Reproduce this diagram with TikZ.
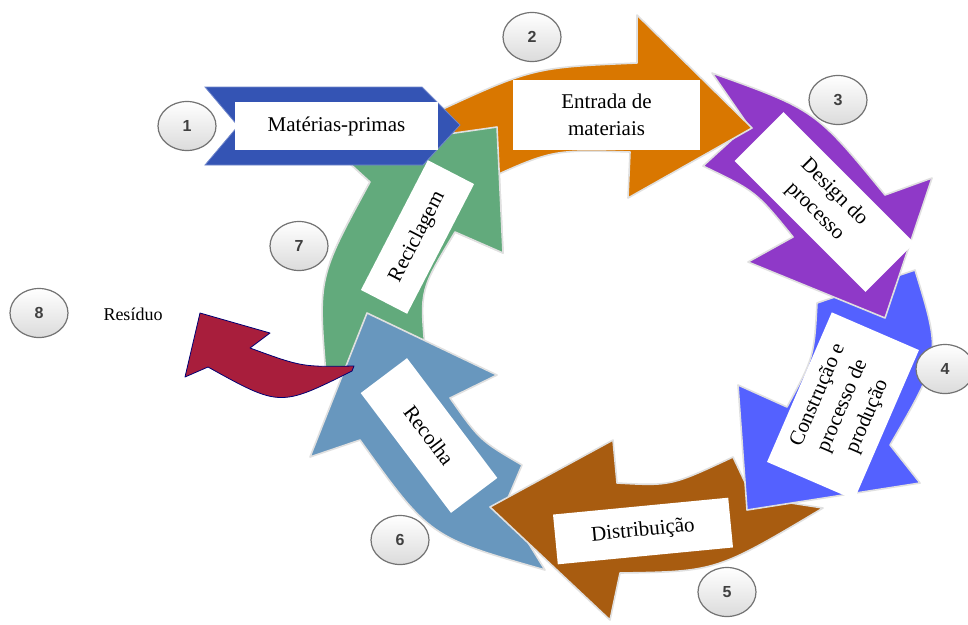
\documentclass[tikz,border=0pt]{standalone}
\usepackage{fontspec}
\setmainfont{Liberation Serif}
\newfontfamily\numfont{Liberation Sans}
\usetikzlibrary{shapes.geometric}
\definecolor{cOrange}{RGB}{217,119,0}
\definecolor{cPurple}{RGB}{143,57,200}
\definecolor{cBlue}{RGB}{84,97,255}
\definecolor{cBrown}{RGB}{168,92,16}
\definecolor{cSteel}{RGB}{104,151,190}
\definecolor{cGreen}{RGB}{98,170,124}
\definecolor{cRed}{RGB}{168,30,60}
\definecolor{cChev}{RGB}{52,84,180}
\newcommand\GreenShp{%
  \path[arr, fill=cGreen] (326,375) -- (425,348) .. controls (420,290) .. (455,232)
    -- (503,253) -- (497,127) -- (335,150) -- (370,182)
    .. controls (318,277.5) .. (326,375) -- cycle;}
\begin{document}
\begin{tikzpicture}[x=1pt,y=-1pt,
  arr/.style={draw=black!12, line width=1.6pt, line join=round},
  lbl/.style={fill=white, inner sep=0pt, align=center, font=\fontsize{21}{27}\selectfont},
  num/.style={ellipse, draw=black!55, line width=1.2pt, minimum width=58pt, minimum height=49pt,
    top color=white, bottom color=black!14, text=black!75, inner sep=0pt,
    font=\numfont\bfseries\fontsize{16}{16}\selectfont}]
\useasboundingbox (0,0) rectangle (968,624);
\fill[white] (0,0) rectangle (968,624);
% cycle arrows
\GreenShp
\path[arr, fill=cSteel] (522,465) -- (505,505) -- (545,570) .. controls (429.5,537) .. (360,440)
  -- (310,457) -- (367,313) -- (497,375) -- (450,398) .. controls (480,440.5) .. (522,465) -- cycle;
\path[arr, fill=cBrown] (733,457) -- (752,497) -- (823,508) .. controls (716.5,571.5) .. (620,573)
  -- (610,620) -- (490,507) -- (613,440) -- (617,483) .. controls (671,486) .. (733,457) -- cycle;
\path[arr, fill=cBlue] (817,303) -- (915,270) .. controls (941.5,356.5) .. (890,445)
  -- (920,483) -- (747,510) -- (738,385) -- (787,407) .. controls (814,357) .. (817,303) -- cycle;
\path[arr, fill=cPurple] (712,73) -- (748,125) -- (703,166) .. controls (756,191.5) .. (793,237)
  -- (748,262) -- (885,318) -- (932,178) -- (885,195) .. controls (815.5,110) .. (712,73) -- cycle;
\path[arr, fill=cOrange] (430,115) .. controls (532.5,67.5) .. (637,63) -- (637,15) -- (752,128)
  -- (628,198) -- (630,152) .. controls (551.5,149.5) .. (475,185) -- cycle;
\begin{scope}
  \clip (0,0) rectangle (968,262);
  \GreenShp
\end{scope}
% waste arrow
\path[draw=blue!45!black, line width=0.8pt, fill=cRed, line join=round]
  (354,366) .. controls (302,367) .. (250,348) -- (270,333) -- (200,313) -- (185,377)
  -- (208,367) .. controls (280,407) .. (352,371) -- cycle;
% raw materials chevron
\path[fill=cChev, draw=cChev!70!white, line width=0.8pt]
  (205,87) -- (422,87) -- (460,125) -- (423,165) -- (205,165) -- (238,126) -- cycle;
% labels
\node[lbl, minimum width=203pt, minimum height=48pt] (t1) at (336.5,126) {Matérias-primas};
\node[lbl, minimum width=187pt, minimum height=70pt] (t2) at (606.5,115) {Entrada de\\materiais};
\node[lbl, rotate=-45, minimum width=185pt, minimum height=69pt] (t3) at (824.5,202) {Design do\\processo};
\node[lbl, rotate=66.6, minimum width=163pt, minimum height=95pt] (t4) at (843,406) {Construção e\\processo de\\produção};
\node[lbl, rotate=5.5, minimum width=176pt, minimum height=50pt] (t5) at (643,531) {Distribuição};
\node[lbl, rotate=-53, minimum width=150pt, minimum height=58pt] (t6) at (429,435.5) {Recolha};
\node[lbl, rotate=62.7, minimum width=146pt, minimum height=52pt] (t7) at (417.5,237) {Reciclagem};
\node[font=\fontsize{18}{20}\selectfont] (t8) at (133,314) {Resíduo};
% number badges
\node[num] (n1) at (187,126) {1};
\node[num] (n2) at (532,37) {2};
\node[num] (n3) at (838,100) {3};
\node[num] (n4) at (945,369) {4};
\node[num] (n5) at (727,592) {5};
\node[num] (n6) at (400,540) {6};
\node[num] (n7) at (299,246) {7};
\node[num] (n8) at (39,313) {8};
\end{tikzpicture}
\end{document}
